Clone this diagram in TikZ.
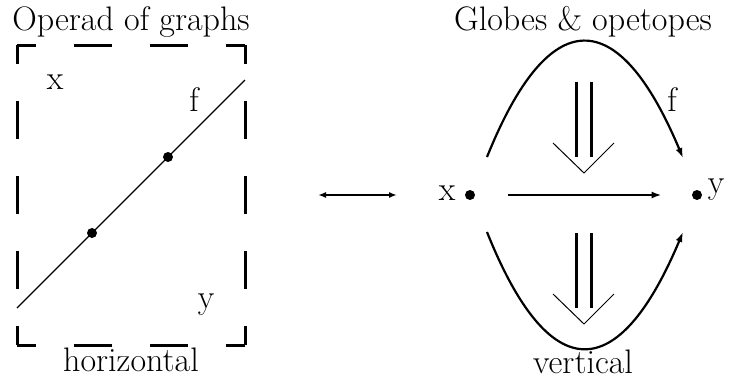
\documentclass[tikz,border=0pt]{standalone}
\usepackage{tikz}
\usetikzlibrary{arrows.meta}
\tikzset{
  dotnode/.style={circle, fill=black, inner sep=0pt, minimum size=5pt},
  hside/.style={line width=1.5pt, dash pattern=on 19pt off 19pt, dash phase=9.5pt},
  vside/.style={line width=1.5pt, dash pattern=on 18.75pt off 18.75pt, dash phase=9.375pt},
  graphline/.style={line width=0.6pt},
  biarrow/.style={{Latex[length=4pt,width=3pt]}-{Latex[length=4pt,width=3pt]}, line width=1pt},
  onecell/.style={-{Latex[length=5pt,width=3.5pt]}, line width=1.1pt},
  cellbar/.style={line width=1.1pt},
  cellhead/.style={line width=0.5pt}
}

\begin{document}
\begin{tikzpicture}[x=0.5pt, y=-0.5pt, font=\fontsize{17}{20}\selectfont]
  \useasboundingbox (0,0) rectangle (730,381);

  % operad of graphs
  \node (optitle) at (131,22) {Operad of graphs};
  \coordinate (tl) at (17,45);
  \coordinate (tr) at (245,45);
  \coordinate (bl) at (17,345);
  \coordinate (br) at (245,345);
  \draw[hside] (tl) -- (tr);
  \draw[hside] (bl) -- (br);
  \draw[vside] (tl) -- (bl);
  \draw[vside] (tr) -- (br);
  \node (xl) at (55,82) {x};
  \node (fl) at (194,100) {f};
  \node (yl) at (206,305) {y};
  \node[dotnode] (d1) at (92,233) {};
  \node[dotnode] (d2) at (168,157) {};
  \coordinate (gin) at (17,308);
  \coordinate (gout) at (245,80);
  \draw[graphline] (gin) -- (d1.center) -- (d2.center) -- (gout);
  \node (hlabel) at (131,360) {horizontal};

  % correspondence
  \coordinate (ml) at (318,195);
  \coordinate (mr) at (397,195);
  \draw[biarrow] (ml) -- (mr);

  % globes
  \node (gtitle) at (583,22) {Globes \& opetopes};
  \node[dotnode] (xdot) at (470,195) {};
  \node[dotnode] (ydot) at (697,195) {};
  \node (xr) at (447,193) {x};
  \node (yr) at (716,190) {y};
  \node (fr) at (672,100) {f};
  \draw[onecell, shorten <=16.5pt, shorten >=15pt] (xdot) -- (ydot);
  \coordinate (us) at (487,157);
  \coordinate (ue) at (683,158);
  \coordinate (ls) at (487,232);
  \coordinate (le) at (683,232);
  \draw[onecell] (us) .. controls (549,3) and (618,3) .. (ue);
  \draw[onecell] (ls) .. controls (549,387) and (618,387) .. (le);
  \coordinate (ucell) at (584,82);
  \coordinate (dcell) at (584,233);
  \foreach \c in {ucell,dcell}{
    \draw[cellbar] ([xshift=-3.75pt]\c) -- ++(0,75);
    \draw[cellbar] ([xshift=3.75pt]\c) -- ++(0,75);
    \draw[cellhead] ([shift={(-31,61)}]\c) -- ++(31,30) -- ++(30,-30);
  }
  \node (vlabel) at (583,362) {vertical};
\end{tikzpicture}
\end{document}
